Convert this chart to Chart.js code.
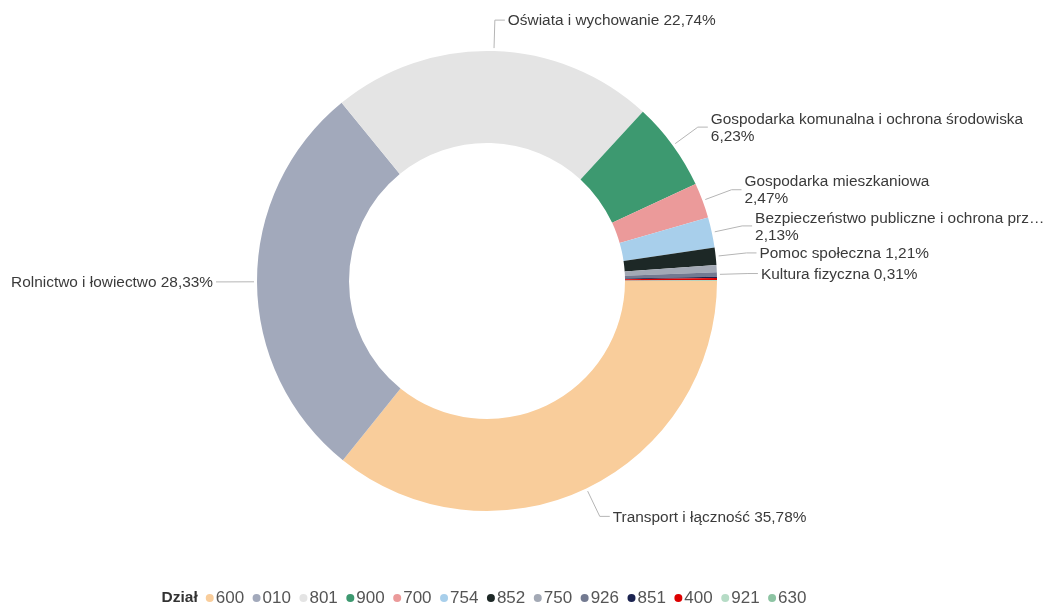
<!DOCTYPE html>
<html>
<head>
<meta charset="utf-8">
<script src="https://cdn.jsdelivr.net/npm/chart.js@4"></script>
<style>
html,body{margin:0;padding:0;background:#fff;}
#wrap{width:1048px;height:605px;position:relative;}
</style>
</head>
<body>
<div id="wrap"><canvas id="c"></canvas></div>
<script>
const categories = ['600','010','801','900','700','754','852','750','926','851','400','921','630'];
const names = [
  'Transport i łączność',
  'Rolnictwo i łowiectwo',
  'Oświata i wychowanie',
  'Gospodarka komunalna i ochrona środowiska',
  'Gospodarka mieszkaniowa',
  'Bezpieczeństwo publiczne i ochrona przeciwpożarowa',
  'Pomoc społeczna',
  'Administracja publiczna',
  'Kultura fizyczna',
  'Ochrona zdrowia',
  'Wytwarzanie i zaopatrywanie w energię elektryczną, gaz i wodę',
  'Kultura i ochrona dziedzictwa narodowego',
  'Turystyka'
];
const values = [35.78, 28.33, 22.74, 6.23, 2.47, 2.13, 1.21, 0.50, 0.31, 0.10, 0.13, 0.04, 0.03];
const colors = ['#f9cd9b','#a2a9bb','#e4e4e4','#3d9970','#eb9a9a','#a8cfeb','#1d2826','#a3a9b5','#737a91','#1b2350','#dd0000','#b6dcc6','#8dc4a3'];
const legendTitle = 'Dział';

const FONT = '"Liberation Sans", Arial, sans-serif';

const labelPlugin = {
  id: 'sliceLabels',
  afterDraw(chart) {
    const ctx = chart.ctx;
    const meta = chart.getDatasetMeta(0);
    const data = chart.data.datasets[0].data;
    const total = data.reduce((a, b) => a + b, 0);
    const order = data.map((v, i) => i).sort((a, b) => data[b] - data[a]);
    const placed = [];
    const lh = 17;
    ctx.save();
    ctx.font = '15.4px ' + FONT;
    const items = [];
    for (const i of order) {
      const arc = meta.data[i];
      const p = arc.getProps(['x','y','startAngle','endAngle','outerRadius'], true);
      const mid = (p.startAngle + p.endAngle) / 2;
      const cos = Math.cos(mid), sin = Math.sin(mid);
      const right = cos >= -0.0001;
      const R = p.outerRadius + 31;
      const px = p.x + cos * R, py = p.y + sin * R;
      const tx = right ? px + 13 : px - 13;
      const pct = (data[i] / total * 100).toFixed(2).replace('.', ',') + '%';
      const name = chart.data.labels[i];
      let lines;
      const full = name + ' ' + pct;
      if (right && tx + ctx.measureText(full).width > 960) {
        let n = name;
        if (tx + ctx.measureText(n).width > 1045) {
          while (n.length > 1 && tx + ctx.measureText(n + '…').width > 1045) n = n.slice(0, -1);
          n = n.trimEnd() + '…';
        }
        lines = [n, pct];
      } else {
        lines = [full];
      }
      const h = lines.length * lh;
      const top = py - h / 2, bot = py + h / 2;
      const w = Math.max(...lines.map(l => ctx.measureText(l).width));
      const x0 = right ? tx : tx - w, x1 = right ? tx + w : tx;
      const clash = placed.some(b => !(bot <= b.top || top >= b.bot || x1 <= b.x0 || x0 >= b.x1));
      if (clash) continue;
      placed.push({top, bot, x0, x1});
      items.push({p, cos, sin, px, py, tx, right, lines});
    }
    for (const it of items) {
      const r0 = it.p.outerRadius + 3;
      ctx.beginPath();
      ctx.strokeStyle = '#b5b5b5';
      ctx.lineWidth = 1;
      ctx.moveTo(it.p.x + it.cos * r0, it.p.y + it.sin * r0);
      ctx.lineTo(it.px, it.py);
      ctx.lineTo(it.right ? it.px + 10 : it.px - 10, it.py);
      ctx.stroke();
      ctx.fillStyle = '#3a3a3a';
      ctx.textAlign = it.right ? 'left' : 'right';
      ctx.textBaseline = 'middle';
      const n = it.lines.length;
      it.lines.forEach((l, k) => {
        ctx.fillText(l, it.tx, it.py + 1 + (k - (n - 1) / 2) * lh);
      });
    }
    ctx.restore();
  }
};

const legendPlugin = {
  id: 'customLegend',
  afterDraw(chart) {
    const ctx = chart.ctx;
    const cats = chart.data.datasets[0].legendCodes;
    const cols = chart.data.datasets[0].backgroundColor;
    const y = 598;
    ctx.save();
    ctx.textBaseline = 'middle';
    ctx.font = 'bold 15.5px ' + FONT;
    const tw = ctx.measureText(legendTitle).width;
    ctx.font = '17px ' + FONT;
    const dot = 8, gap = 2, sep = 8.5, titleSep = 8;
    let total = tw + titleSep;
    const widths = cats.map(c => ctx.measureText(c).width);
    widths.forEach(w => total += dot + gap + w + sep);
    total -= sep;
    const cx = (chart.chartArea.left + chart.chartArea.right) / 2 - 3;
    let x = cx - total / 2;
    ctx.font = 'bold 15.5px ' + FONT;
    ctx.fillStyle = '#333';
    ctx.textAlign = 'left';
    ctx.fillText(legendTitle, x, y);
    x += tw + titleSep;
    ctx.font = '17px ' + FONT;
    cats.forEach((c, i) => {
      ctx.beginPath();
      ctx.fillStyle = cols[i];
      ctx.arc(x + dot / 2, y, dot / 2, 0, Math.PI * 2);
      ctx.fill();
      x += dot + gap;
      ctx.fillStyle = '#555';
      ctx.fillText(c, x, y);
      x += widths[i] + sep;
    });
    ctx.restore();
  }
};

new Chart(document.getElementById('c'), {
  type: 'doughnut',
  data: {
    labels: names,
    datasets: [{
      data: values,
      backgroundColor: colors,
      borderWidth: 0,
      legendCodes: categories
    }]
  },
  options: {
    responsive: true,
    maintainAspectRatio: false,
    animation: false,
    rotation: 90,
    cutout: '60%',
    layout: { padding: { top: 51, bottom: 94, left: 257, right: 331 } },
    plugins: {
      legend: { display: false },
      tooltip: { enabled: false }
    }
  },
  plugins: [labelPlugin, legendPlugin]
});
</script>
</body>
</html>
